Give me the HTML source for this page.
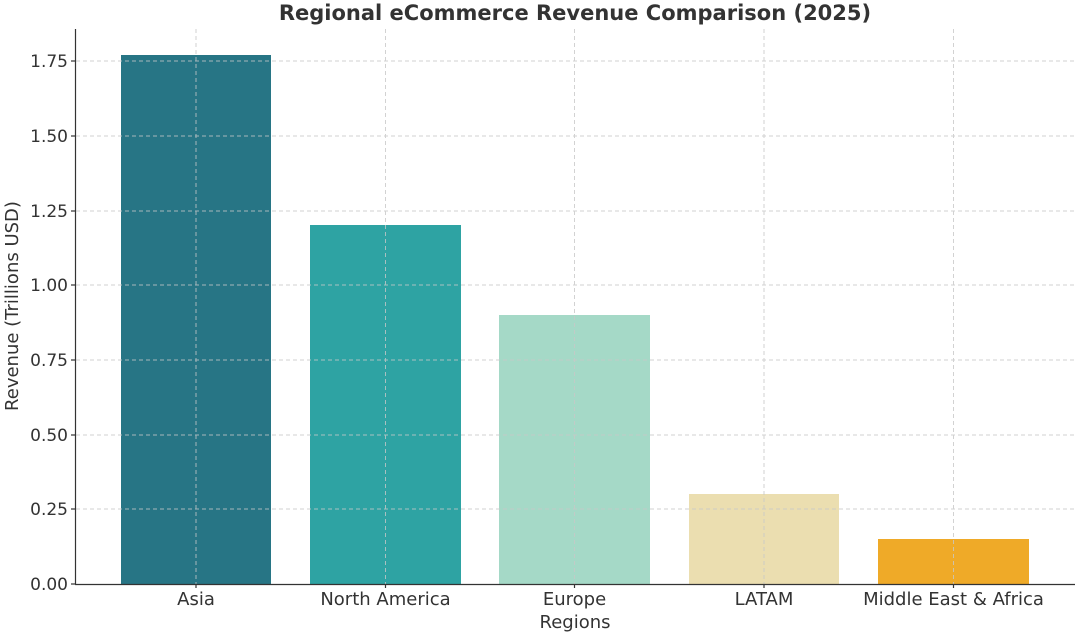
<!DOCTYPE html>
<html><head><style>body{margin:0;background:#fff}svg{display:block}</style></head><body>
<svg width="1083" height="636" xmlns="http://www.w3.org/2000/svg" font-family="'DejaVu Sans','Liberation Sans',sans-serif">
<rect width="1083" height="636" fill="#fff"/>
<g>
<rect x="121" y="55" width="150" height="529" fill="#277585"/>
<rect x="310" y="225" width="151" height="359" fill="#2ea3a3"/>
<rect x="499" y="315" width="151" height="269" fill="#a5d9c7"/>
<rect x="689" y="494" width="150" height="90" fill="#ebdeb0"/>
<rect x="878" y="539" width="151" height="45" fill="#efaa28"/>
</g>
<g stroke="#c8c8c8" stroke-width="1" stroke-dasharray="4,3" opacity="0.8">
<line x1="76" y1="61" x2="1075" y2="61"/>
<line x1="76" y1="136" x2="1075" y2="136"/>
<line x1="76" y1="211" x2="1075" y2="211"/>
<line x1="76" y1="285" x2="1075" y2="285"/>
<line x1="76" y1="360" x2="1075" y2="360"/>
<line x1="76" y1="435" x2="1075" y2="435"/>
<line x1="76" y1="509" x2="1075" y2="509"/>
<line x1="196" y1="29" x2="196" y2="584"/>
<line x1="385.5" y1="29" x2="385.5" y2="584"/>
<line x1="574.5" y1="29" x2="574.5" y2="584"/>
<line x1="764" y1="29" x2="764" y2="584"/>
<line x1="953.5" y1="29" x2="953.5" y2="584"/>
</g>
<g stroke="#333" stroke-width="1.2">
<line x1="75.5" y1="29" x2="75.5" y2="584.5"/>
<line x1="75" y1="584.5" x2="1075" y2="584.5"/>
<line x1="71" y1="61" x2="75" y2="61"/><line x1="71" y1="136" x2="75" y2="136"/>
<line x1="71" y1="211" x2="75" y2="211"/><line x1="71" y1="285" x2="75" y2="285"/>
<line x1="71" y1="360" x2="75" y2="360"/><line x1="71" y1="435" x2="75" y2="435"/>
<line x1="71" y1="509" x2="75" y2="509"/><line x1="71" y1="584" x2="75" y2="584"/>
<line x1="196" y1="584" x2="196" y2="588"/><line x1="385.5" y1="584" x2="385.5" y2="588"/>
<line x1="574.5" y1="584" x2="574.5" y2="588"/><line x1="764" y1="584" x2="764" y2="588"/>
<line x1="953.5" y1="584" x2="953.5" y2="588"/>
</g>
<g fill="#333" font-size="17" text-anchor="end">
<text x="68" y="67">1.75</text><text x="68" y="142">1.50</text>
<text x="68" y="217">1.25</text><text x="68" y="291">1.00</text>
<text x="68" y="366">0.75</text><text x="68" y="441">0.50</text>
<text x="68" y="515">0.25</text><text x="68" y="590">0.00</text>
</g>
<g fill="#333" font-size="18" text-anchor="middle">
<text x="196" y="605">Asia</text>
<text x="385.5" y="605">North America</text>
<text x="574.5" y="605">Europe</text>
<text x="764" y="605">LATAM</text>
<text x="953.5" y="605">Middle East &amp; Africa</text>
<text x="575" y="628">Regions</text>
<text transform="translate(18,306) rotate(-90)">Revenue (Trillions USD)</text>
<text x="575" y="20" font-weight="bold" font-size="21">Regional eCommerce Revenue Comparison (2025)</text>
</g>
</svg>
</body></html>
